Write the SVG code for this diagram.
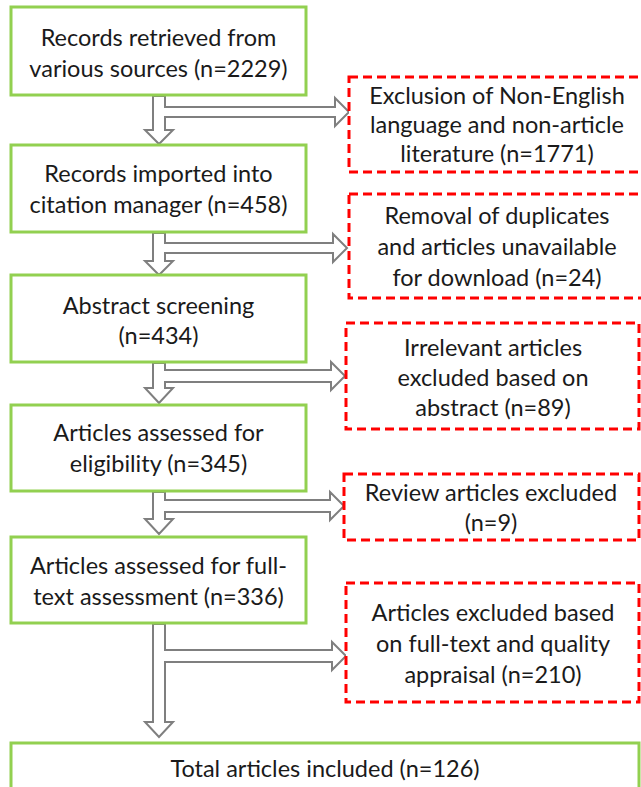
<svg xmlns="http://www.w3.org/2000/svg" width="641" height="787" viewBox="0 0 641 787">
<style>
.g{fill:#fff;stroke:#92D050;stroke-width:3}
.r{fill:#fff;stroke:#FF0000;stroke-width:3;stroke-dasharray:9 5}
.a{fill:#fff;stroke:#7F7F7F;stroke-width:2;stroke-linejoin:miter}
text{font-family:Lato,"Open Sans","Liberation Sans",sans-serif;font-size:23.5px;fill:#1a1a1a;text-anchor:middle}
</style>
<rect width="641" height="787" fill="#fff"/>
<g id="connectors">
<path class="a" d="M153,96 H165 V107 H335 V98 L349,112 L335,126 V117 H165 V130 H173 L159,144 L145,130 H153 Z"/>
<path class="a" d="M153,233 H165 V243 H333 V234 L347,248 L333,262 V253 H165 V261 H173 L159,275 L145,261 H153 Z"/>
<path class="a" d="M153,363 H165 V370 H331 V362 L345,376 L331,390 V382 H165 V388 H173 L159,403 L145,388 H153 Z"/>
<path class="a" d="M153,492 H165 V500 H330 V492 L344,506 L330,520 V512 H165 V519 H173 L159,534 L145,519 H153 Z"/>
<path class="a" d="M153,624 H165 V650 H332 V642 L346,656 L332,670 V662 H165 V722 H173 L159,737 L145,722 H153 Z"/>
</g>
<g id="n1"><rect class="g" x="11" y="7" width="295" height="88"/>
<text x="158.5" y="45.5">Records retrieved from</text><text x="158.5" y="76.5">various sources (n=2229)</text></g>
<g id="n2"><rect class="g" x="11" y="145" width="295" height="87"/>
<text x="158.5" y="181.5">Records imported into</text><text x="158.5" y="212.5">citation manager (n=458)</text></g>
<g id="n3"><rect class="g" x="11" y="275" width="295" height="87"/>
<text x="158.5" y="313.5">Abstract screening</text><text x="158.5" y="343.5">(n=434)</text></g>
<g id="n4"><rect class="g" x="11" y="405" width="295" height="86"/>
<text x="158.5" y="440.5">Articles assessed for</text><text x="158.5" y="471.5">eligibility (n=345)</text></g>
<g id="n5"><rect class="g" x="11" y="537" width="295" height="86"/>
<text x="158.5" y="573.5">Articles assessed for full-</text><text x="158.5" y="604.5">text assessment (n=336)</text></g>
<g id="n6"><rect class="g" x="11" y="743" width="628" height="60"/>
<text x="325" y="776.5">Total articles included (n=126)</text></g>
<g id="e1"><rect class="r" x="349" y="77" width="300" height="95"/>
<text x="497" y="103.5">Exclusion of Non-English</text><text x="497" y="132.5">language and non-article</text><text x="497" y="161.5">literature (n=1771)</text></g>
<g id="e2"><rect class="r" x="349" y="194" width="300" height="104"/>
<text x="497" y="223.5">Removal of duplicates</text><text x="497" y="254.5">and articles unavailable</text><text x="497" y="285.5">for download (n=24)</text></g>
<g id="e3"><rect class="r" x="346" y="323" width="293" height="106"/>
<text x="493" y="355.5">Irrelevant articles</text><text x="493" y="385.5">excluded based on</text><text x="493" y="415.5">abstract (n=89)</text></g>
<g id="e4"><rect class="r" x="344" y="474" width="295" height="66"/>
<text x="491" y="500.5">Review articles excluded</text><text x="491" y="530.5">(n=9)</text></g>
<g id="e5"><rect class="r" x="346" y="583" width="293" height="119"/>
<text x="493" y="620.5">Articles excluded based</text><text x="493" y="651.5">on full-text and quality</text><text x="493" y="682.5">appraisal (n=210)</text></g>
</svg>
